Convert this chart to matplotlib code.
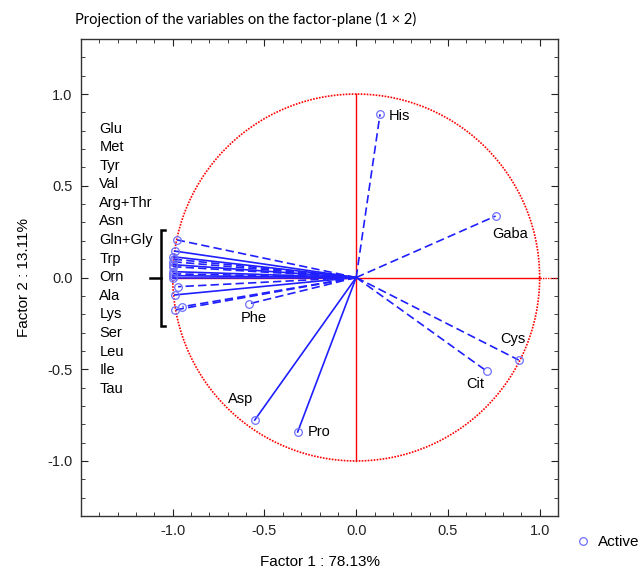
import numpy as np
import matplotlib.pyplot as plt
from matplotlib.lines import Line2D

plt.rcParams['font.family'] = ['Liberation Sans', 'DejaVu Sans']

# variables projected on the factor plane (factor 1, factor 2)
labelled_vars = ['His', 'Gaba', 'Cys', 'Cit', 'Pro', 'Asp', 'Phe']
labelled_f1 = [0.13, 0.76, 0.886, 0.711, -0.319, -0.553, -0.586]
labelled_f2 = [0.89, 0.335, -0.45, -0.51, -0.842, -0.777, -0.144]

cluster_vars = ['Glu', 'Met', 'Tyr', 'Val', 'Arg+Thr', 'Asn', 'Gln+Gly', 'Trp',
                'Orn', 'Ala', 'Lys', 'Ser', 'Leu', 'Ile', 'Tau']
cluster_f1 = [-0.989, -0.977, -0.998, -0.998, -0.999, -0.999, -1.0, -0.999,
              -0.998, -0.971, -0.989, -0.989, -0.947, -0.995, -0.997]
cluster_f2 = [0.144, 0.205, 0.113, 0.086, 0.059, 0.032, 0.010, 0.020,
              0.0, -0.05, -0.095, -0.177, -0.159, 0.100, 0.070]

solid_vars = ['Glu', 'Tyr', 'Asn', 'Gln+Gly', 'Orn', 'Lys', 'Tau', 'Pro', 'Asp']

title = 'Projection of the variables on the factor-plane (1 \u00d7 2)'
xlab = 'Factor 1 : 78.13%'
ylab = 'Factor 2 : 13.11%'

line_col = '#1f1fff'
mark_col = '#6f6fff'

fig = plt.figure(figsize=(6.43, 5.72), dpi=100)
ax = fig.add_axes([81 / 643, 56 / 572, 477 / 643, 477 / 572])

# unit circle and axes of the factor plane
t = np.linspace(0, 2 * np.pi, 400)
ax.plot(np.cos(t), np.sin(t), color='red', lw=1.2, ls=(0, (1, 0.8)))
ax.plot([-1, 1], [0, 0], color='red', lw=1.0)
ax.plot([1, 1.1], [0, 0], color='red', lw=1.0, ls=(0, (1, 0.8)))
ax.plot([0, 0], [-1, 1], color='red', lw=1.0)

names = labelled_vars + cluster_vars
f1s = labelled_f1 + cluster_f1
f2s = labelled_f2 + cluster_f2
for n, a, b in zip(names, f1s, f2s):
    ls = '-' if n in solid_vars else (0, (5, 2.5))
    ax.plot([0, a], [0, b], color=line_col, lw=1.2, ls=ls)
    ax.plot(a, b, 'o', ms=5.5, mfc='none', mec=mark_col, mew=0.9)

fs = 10.5
ax.text(0.177, 0.88, 'His', fontsize=fs, va='center', ha='left')
ax.text(0.837, 0.237, 'Gaba', fontsize=fs, va='center', ha='center')
ax.text(0.853, -0.335, 'Cys', fontsize=fs, va='center', ha='center')
ax.text(0.651, -0.58, 'Cit', fontsize=fs, va='center', ha='center')
ax.text(-0.264, -0.842, 'Pro', fontsize=fs, va='center', ha='left')
ax.text(-0.63, -0.662, 'Asp', fontsize=fs, va='center', ha='center')
ax.text(-0.559, -0.221, 'Phe', fontsize=fs, va='center', ha='center')

# names of the crowded variables listed on the left
for i, n in enumerate(cluster_vars):
    ax.text(-1.40, 0.812 - i * 0.1013, n, fontsize=fs, va='center', ha='left')

# bracket grouping them
bx = -1.064
ax.plot([bx + 0.02, bx, bx, bx + 0.02], [0.259, 0.259, -0.264, -0.264],
        color='black', lw=1.8, solid_joinstyle='miter')
ax.plot([bx - 0.06, bx], [0, 0], color='black', lw=1.8)

ax.set_xlim(-1.5, 1.1)
ax.set_ylim(-1.3, 1.3)
ax.set_xticks([-1.0, -0.5, 0.0, 0.5, 1.0])
ax.set_yticks([-1.0, -0.5, 0.0, 0.5, 1.0])
ax.set_xticks(np.arange(-1.5, 1.11, 0.1), minor=True)
ax.set_yticks(np.arange(-1.3, 1.31, 0.1), minor=True)
ax.set_xticklabels(['-1.0', '-0.5', '0.0', '0.5', '1.0'])
ax.set_yticklabels(['-1.0', '-0.5', '0.0', '0.5', '1.0'])
ax.tick_params(which='both', direction='in', top=True, right=True,
               labelsize=10.5, colors='#222222', pad=6)
ax.tick_params(which='major', length=5)
ax.tick_params(which='minor', length=3)
for s in ax.spines.values():
    s.set_linewidth(1.0)
    s.set_color('#333333')

ax.set_xlabel(xlab, fontsize=11, labelpad=12)
ax.set_ylabel(ylab, fontsize=11, labelpad=12)
fig.text(75 / 643, 1 - 19 / 572, title, fontsize=10.5, family='Lato',
         va='center', ha='left')

h = Line2D([], [], ls='none', marker='o', ms=5.5, mfc='none', mec=mark_col, mew=0.9)
fig.legend(handles=[h], labels=['Active'], loc='center left',
           bbox_to_anchor=(560 / 643, 1 - 542 / 572), frameon=False,
           fontsize=11, handletextpad=0.4, handlelength=1.2)

fig.savefig('out.png', dpi=100)
